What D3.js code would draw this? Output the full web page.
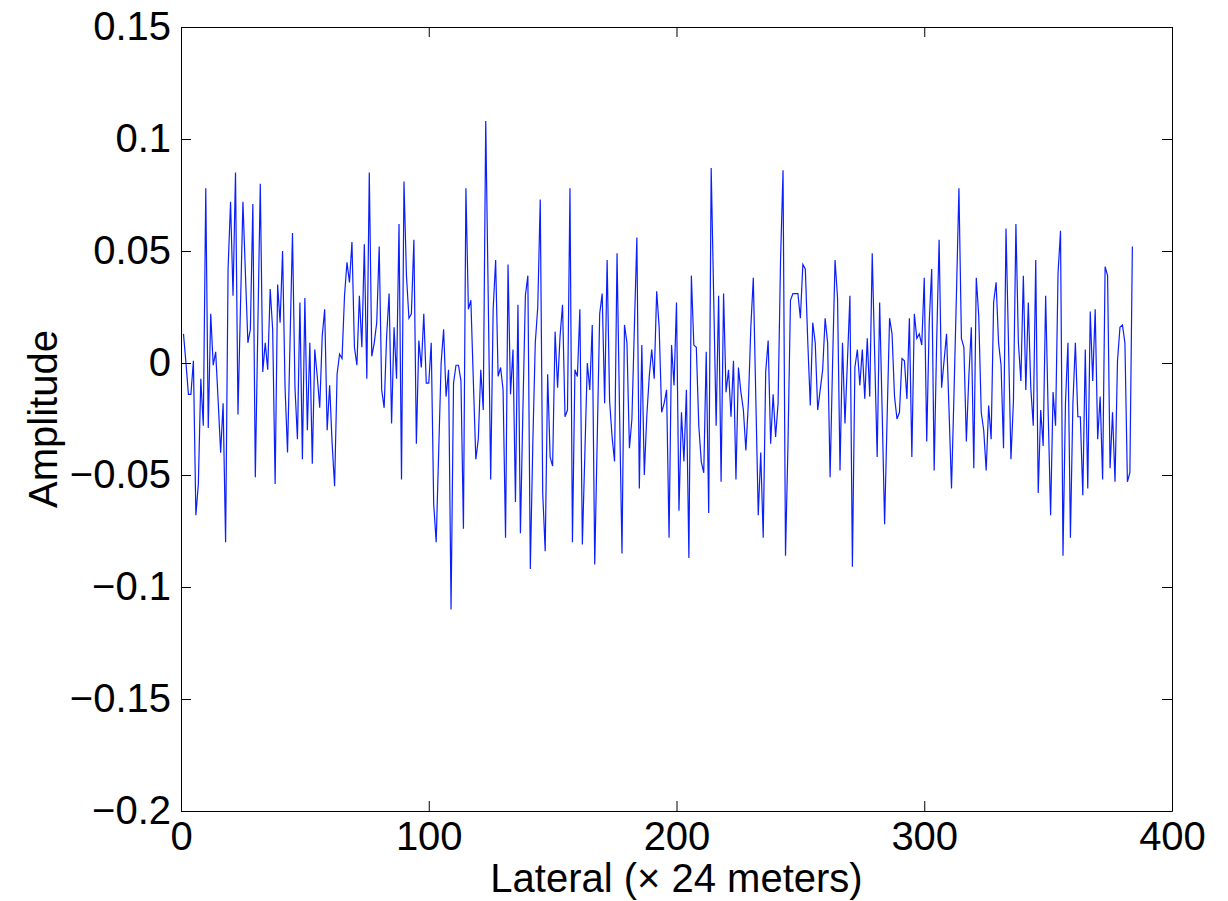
<!DOCTYPE html>
<html>
<head>
<meta charset="utf-8">
<script src="https://cdn.jsdelivr.net/npm/d3@7"></script>
<style>
  body { margin: 0; background: #fff; }
  svg text { font-family: "Liberation Sans", Helvetica, Arial, sans-serif; fill: #000; }
</style>
</head>
<body>
<div id="chart"></div>
<script>
// Amplitude per lateral sample (samples 1..384)
const amplitude = [
  0.013, 0.000, -0.014, -0.014, 0.001, -0.068, -0.054, -0.007, -0.028, 0.078,
  -0.029, 0.022, -0.001, 0.005, -0.017, -0.040, -0.018, -0.080, 0.042, 0.072,
  0.030, 0.085, -0.023, 0.025, 0.072, 0.040, 0.009, 0.015, 0.071, -0.051,
  0.015, 0.080, -0.004, 0.009, -0.003, 0.033, 0.015, -0.054, 0.035, 0.018,
  0.050, -0.011, -0.040, 0.009, 0.058, -0.011, -0.034, 0.027, -0.043, 0.029,
  -0.030, 0.009, -0.045, 0.006, -0.006, -0.020, 0.012, 0.024, -0.030, -0.010,
  -0.036, -0.055, -0.005, 0.004, 0.002, 0.030, 0.045, 0.036, 0.054, 0.007,
  -0.001, 0.030, 0.007, 0.053, -0.007, 0.085, 0.003, 0.009, 0.018, 0.052,
  -0.012, -0.020, 0.012, 0.031, -0.027, 0.016, -0.007, 0.062, -0.052, 0.081,
  0.039, 0.020, 0.022, 0.055, -0.036, 0.010, -0.002, 0.022, -0.009, -0.009,
  0.009, -0.063, -0.080, -0.040, 0.000, 0.015, -0.015, -0.003, -0.110, -0.009,
  -0.001, -0.001, -0.008, -0.074, 0.078, 0.024, 0.028, -0.008, -0.043, -0.034,
  -0.003, -0.021, 0.108, 0.030, -0.052, 0.024, 0.046, -0.006, -0.002, -0.012,
  -0.078, 0.044, -0.014, 0.006, -0.062, 0.026, -0.076, -0.021, 0.030, 0.039,
  -0.092, -0.036, 0.009, 0.025, 0.073, -0.058, -0.084, -0.005, -0.042, -0.046,
  0.014, -0.011, 0.012, 0.026, -0.024, -0.021, 0.078, -0.080, -0.003, -0.006,
  0.024, -0.081, -0.041, 0.000, -0.012, 0.017, -0.090, -0.034, 0.022, 0.031,
  -0.018, 0.046, -0.017, -0.033, -0.044, 0.049, -0.021, -0.085, 0.017, 0.009,
  -0.038, -0.025, 0.016, 0.056, -0.056, 0.008, -0.050, -0.024, -0.006, 0.006,
  -0.007, 0.032, 0.016, -0.022, -0.018, -0.012, -0.078, 0.008, -0.010, 0.027,
  -0.066, -0.022, -0.044, -0.012, -0.087, 0.039, 0.008, 0.007, -0.028, -0.044,
  -0.049, 0.005, -0.067, 0.087, 0.030, -0.028, 0.030, -0.053, 0.031, -0.013,
  -0.003, -0.024, 0.001, -0.052, -0.002, -0.013, -0.021, -0.039, -0.018, 0.016,
  0.038, -0.015, -0.068, -0.040, -0.078, -0.004, 0.010, -0.036, -0.014, -0.033,
  -0.018, 0.046, 0.086, -0.086, -0.036, 0.028, 0.031, 0.031, 0.031, 0.020,
  0.044, 0.042, 0.009, -0.019, 0.018, 0.009, -0.021, -0.012, -0.003, 0.020,
  0.009, -0.051, 0.000, 0.046, 0.029, -0.048, 0.009, -0.027, 0.001, 0.030,
  -0.091, -0.002, 0.006, -0.010, 0.006, -0.016, 0.011, -0.015, 0.049, 0.003,
  -0.042, 0.027, -0.021, -0.072, -0.025, 0.020, 0.013, -0.015, -0.025, -0.022,
  0.002, 0.001, -0.016, 0.020, -0.042, 0.022, 0.011, 0.013, 0.008, 0.038,
  -0.035, 0.018, 0.042, -0.048, 0.009, 0.055, -0.011, 0.001, 0.013, -0.021,
  -0.056, -0.014, 0.031, 0.078, 0.011, 0.007, -0.035, -0.006, 0.016, -0.047,
  0.038, 0.021, -0.022, -0.030, -0.048, -0.019, -0.034, 0.027, 0.036, 0.009,
  -0.001, -0.038, 0.060, 0.009, -0.043, -0.017, 0.062, 0.009, -0.008, 0.039,
  -0.012, 0.027, -0.011, -0.028, 0.046, -0.058, -0.021, -0.037, 0.030, -0.021,
  -0.068, -0.013, -0.028, 0.040, 0.059, -0.086, -0.018, 0.009, -0.078, -0.018,
  0.009, -0.024, -0.024, -0.059, 0.006, -0.056, 0.023, -0.008, 0.024, -0.034,
  -0.015, -0.052, 0.043, 0.039, -0.047, -0.022, -0.053, 0.001, 0.016, 0.017,
  0.009, -0.053, -0.049, 0.052
];
const xTicks = [0, 100, 200, 300, 400];
const yTicks = [-0.2, -0.15, -0.1, -0.05, 0, 0.05, 0.1, 0.15];
const xTitle = "Lateral (\u00d7 24 meters)";
const yTitle = "Amplitude";

// Tamaño del lienzo
const margin = { top: 27, right: 56, bottom: 90, left: 181 };
const width = 1228 - margin.left - margin.right;
const height = 901 - margin.top - margin.bottom;

const xScale = d3.scaleLinear().domain([0, 400]).range([0, width]);
const yScale = d3.scaleLinear().domain([-0.2, 0.15]).range([height, 0]);

const svg = d3.select("#chart")
  .append("svg")
  .attr("width", width + margin.left + margin.right)
  .attr("height", height + margin.top + margin.bottom)
  .append("g")
  .attr("transform", `translate(${margin.left},${margin.top})`);

// etiquetas con signo menos tipográfico
const fmt = d => (d < 0 ? "\u2212" : "") + String(Math.abs(d));

// línea de la señal
const line = d3.line()
  .x((d, i) => xScale(i + 1))
  .y(d => yScale(d));

svg.append("path")
  .datum(amplitude)
  .attr("fill", "none")
  .attr("stroke", "#0a1eff")
  .attr("stroke-width", 1.2)
  .attr("stroke-linejoin", "miter")
  .attr("d", line);

// ejes, marcas hacia dentro (estilo MATLAB)
const tickLen = 10;
const fontSize = 40;

svg.append("g")
  .attr("transform", `translate(0,${height})`)
  .call(d3.axisBottom(xScale).tickValues(xTicks).tickFormat(d3.format("d"))
    .tickSizeInner(-tickLen).tickSizeOuter(0).tickPadding(11));

svg.append("g")
  .call(d3.axisLeft(yScale).tickValues(yTicks).tickFormat(fmt)
    .tickSizeInner(-tickLen).tickSizeOuter(0).tickPadding(10));

svg.append("g")
  .call(d3.axisTop(xScale).tickValues(xTicks).tickFormat("")
    .tickSizeInner(-tickLen).tickSizeOuter(0));

svg.append("g")
  .attr("transform", `translate(${width},0)`)
  .call(d3.axisRight(yScale).tickValues(yTicks).tickFormat("")
    .tickSizeInner(-tickLen).tickSizeOuter(0));

svg.selectAll(".domain").attr("stroke", "#000").attr("stroke-width", 1);
svg.selectAll(".tick line").attr("stroke", "#000").attr("stroke-width", 1);
svg.selectAll(".tick text")
  .style("font-size", fontSize + "px")
  .style("font-family", "'Liberation Sans', Helvetica, Arial, sans-serif")
  .attr("fill", "#000");

// Etiquetas de ejes
svg.append("text")
  .attr("x", width / 2)
  .attr("y", height + 81)
  .attr("text-anchor", "middle")
  .style("font-size", fontSize + "px")
  .text(xTitle);

svg.append("text")
  .attr("transform", `translate(${-124},${height / 2}) rotate(-90)`)
  .attr("text-anchor", "middle")
  .style("font-size", fontSize + "px")
  .text(yTitle);
</script>
</body>
</html>
